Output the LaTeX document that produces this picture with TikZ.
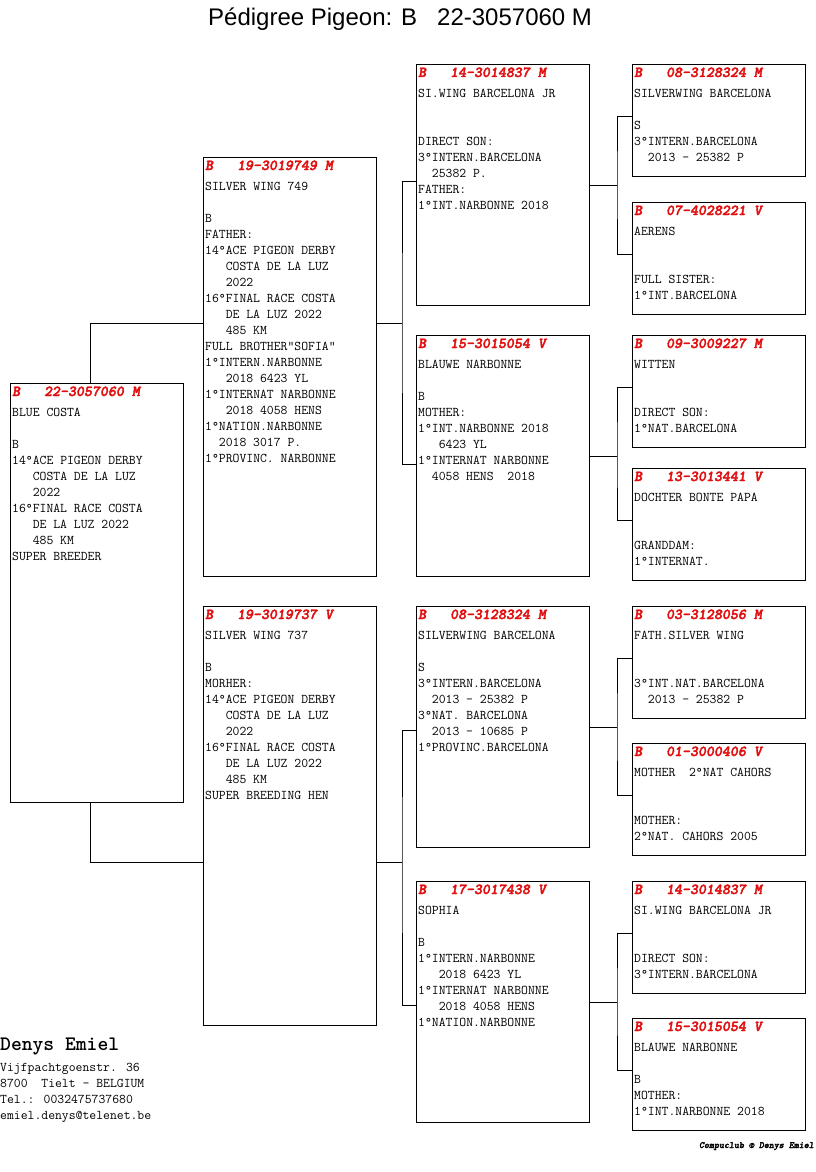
\documentclass[tikz,border=0pt]{standalone}
\usepackage{fontspec}
\newfontfamily\arialf{Liberation Sans}
\newfontfamily\hdrf{lmmonolt10-boldoblique}[Extension=.otf, FakeBold=2.5]
\definecolor{pred}{RGB}{225,15,15}
\newcommand\sps[1]{\hspace*{#1\fontcharwd\font`0}}
\newcommand\blank{\mbox{}}
\newcommand\ped[6]{%
  \node[#2] (#1) at (#3,#4) {};
  \node[hdr] (#1h) at ([shift={(2pt,-13pt)}]#1.north west) {B\sps{3}#5};
  \node[txt] (#1t) at ([shift={(2pt,-21.5pt)}]#1.north west) {\rule{0pt}{12pt}#6};
}
\tikzset{
  box/.style={draw, line width=1pt, rectangle, inner sep=0pt, anchor=north west, minimum width=173pt},
  big/.style={box, minimum height=419pt},
  mid/.style={box, minimum height=241pt},
  small/.style={box, minimum height=112pt},
  hdr/.style={anchor=base west, inner sep=0pt, text=pred, font=\hdrf\fontsize{15.2}{16}\selectfont},
  txt/.style={anchor=north west, inner sep=0pt, align=left, font=\ttfamily\fontsize{13.33}{16}\selectfont},
  link/.style={line width=1pt}
}
\begin{document}
\begin{tikzpicture}[x=1pt,y=-1pt]
\useasboundingbox (0,0) rectangle (816,1172);
\node[anchor=base west, inner sep=0pt, font=\arialf\fontsize{24}{28}\selectfont] (title) at (208,26) {Pédigree Pigeon: B\hspace{0.834em}22-3057060 M};

% generation 0
\ped{g0}{big}{10}{383}{22-3057060 M}{BLUE COSTA\\ \blank\\ B\\ 14°ACE PIGEON DERBY\\ \sps{3}COSTA DE LA LUZ\\ \sps{3}2022\\ 16°FINAL RACE COSTA\\ \sps{3}DE LA LUZ 2022\\ \sps{3}485 KM\\ SUPER BREEDER}

% generation 1
\ped{g1a}{big}{203}{157}{19-3019749 M}{SILVER WING 749\\ \blank\\ B\\ FATHER:\\ 14°ACE PIGEON DERBY\\ \sps{3}COSTA DE LA LUZ\\ \sps{3}2022\\ 16°FINAL RACE COSTA\\ \sps{3}DE LA LUZ 2022\\ \sps{3}485 KM\\ FULL BROTHER"SOFIA"\\ 1°INTERN.NARBONNE\\ \sps{3}2018 6423 YL\\ 1°INTERNAT NARBONNE\\ \sps{3}2018 4058 HENS\\ 1°NATION.NARBONNE\\ \sps{2}2018 3017 P.\\ 1°PROVINC. NARBONNE}
\ped{g1b}{big}{203}{606}{19-3019737 V}{SILVER WING 737\\ \blank\\ B\\ MORHER:\\ 14°ACE PIGEON DERBY\\ \sps{3}COSTA DE LA LUZ\\ \sps{3}2022\\ 16°FINAL RACE COSTA\\ \sps{3}DE LA LUZ 2022\\ \sps{3}485 KM\\ SUPER BREEDING HEN}

% generation 2
\ped{g2a}{mid}{416}{64}{14-3014837 M}{SI.WING BARCELONA JR\\ \blank\\ \blank\\ DIRECT SON:\\ 3°INTERN.BARCELONA\\ \sps{2}25382 P.\\ FATHER:\\ 1°INT.NARBONNE 2018}
\ped{g2b}{mid}{416}{335}{15-3015054 V}{BLAUWE NARBONNE\\ \blank\\ B\\ MOTHER:\\ 1°INT.NARBONNE 2018\\ \sps{3}6423 YL\\ 1°INTERNAT NARBONNE\\ \sps{2}4058 HENS\sps{2}2018}
\ped{g2c}{mid}{416}{606}{08-3128324 M}{SILVERWING BARCELONA\\ \blank\\ S\\ 3°INTERN.BARCELONA\\ \sps{2}2013 - 25382 P\\ 3°NAT. BARCELONA\\ \sps{2}2013 - 10685 P\\ 1°PROVINC.BARCELONA}
\ped{g2d}{mid}{416}{881}{17-3017438 V}{SOPHIA\\ \blank\\ B\\ 1°INTERN.NARBONNE\\ \sps{3}2018 6423 YL\\ 1°INTERNAT NARBONNE\\ \sps{3}2018 4058 HENS\\ 1°NATION.NARBONNE}

% generation 3
\ped{g3a}{small}{632}{64}{08-3128324 M}{SILVERWING BARCELONA\\ \blank\\ S\\ 3°INTERN.BARCELONA\\ \sps{2}2013 - 25382 P}
\ped{g3b}{small}{632}{202}{07-4028221 V}{AERENS\\ \blank\\ \blank\\ FULL SISTER:\\ 1°INT.BARCELONA}
\ped{g3c}{small}{632}{335}{09-3009227 M}{WITTEN\\ \blank\\ \blank\\ DIRECT SON:\\ 1°NAT.BARCELONA}
\ped{g3d}{small}{632}{468}{13-3013441 V}{DOCHTER BONTE PAPA\\ \blank\\ \blank\\ GRANDDAM:\\ 1°INTERNAT.}
\ped{g3e}{small}{632}{606}{03-3128056 M}{FATH.SILVER WING\\ \blank\\ \blank\\ 3°INT.NAT.BARCELONA\\ \sps{2}2013 - 25382 P}
\ped{g3f}{small}{632}{743}{01-3000406 V}{MOTHER\sps{2}2°NAT CAHORS\\ \blank\\ \blank\\ MOTHER:\\ 2°NAT. CAHORS 2005}
\ped{g3g}{small}{632}{881}{14-3014837 M}{SI.WING BARCELONA JR\\ \blank\\ \blank\\ DIRECT SON:\\ 3°INTERN.BARCELONA}
\ped{g3h}{small}{632}{1018}{15-3015054 V}{BLAUWE NARBONNE\\ \blank\\ B\\ MOTHER:\\ 1°INT.NARBONNE 2018}

% connectors gen0 -> gen1
\coordinate (a0) at (90,323);
\coordinate (b0) at (90,862);
\draw[link] ([xshift=80pt]g0.north west) -- (a0) -- (a0 -| g1a.west);
\draw[link] ([xshift=80pt]g0.south west) -- (b0) -- (b0 -| g1b.west);

% gen1 -> gen2
\coordinate (j1) at (402,323);
\coordinate (j2) at (402,862);
\coordinate (e1) at (416,181);
\coordinate (e2) at (416,464);
\coordinate (e3) at (416,730);
\coordinate (e4) at (416,1005);
\draw[link] (j1 -| g1a.east) -- (j1);
\draw[link] (j2 -| g1b.east) -- (j2);
\draw[link] (g2a.west |- e1) -| (j1) |- (g2b.west |- e2);
\draw[link] (g2c.west |- e3) -| (j2) |- (g2d.west |- e4);

% gen2 -> gen3
\foreach \p/\u/\l in {g2a/g3a/g3b, g2b/g3c/g3d, g2c/g3e/g3f, g2d/g3g/g3h}{
  \coordinate (k\p) at ([xshift=27pt]\p.east);
  \draw[link] (\p.east) -- (k\p);
  \draw[link] ([yshift=4pt]\u.west) -| (k\p) |- ([yshift=4pt]\l.west);
}

% footer
\node[anchor=base west, inner sep=0pt, font=\ttfamily\bfseries\fontsize{20.6}{22}\selectfont] (owner) at (0,1050) {Denys Emiel};
\node[txt] (addr) at (0,1059) {\rule{0pt}{12pt}Vijfpachtgoenstr. 36\\ 8700\sps{2}Tielt - BELGIUM\\ Tel.: 0032475737680\\ emiel.denys@telenet.be};
\node[anchor=base east, inner sep=0pt, font=\hdrf\fontsize{9.5}{10}\selectfont] (credit) at (814,1148) {Compuclub © Denys Emiel};
\end{tikzpicture}
\end{document}
